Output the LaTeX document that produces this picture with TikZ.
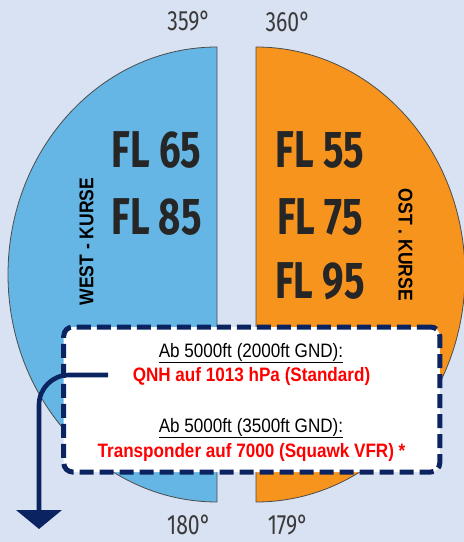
\documentclass[tikz,border=0pt]{standalone}
\usepackage{fontspec}
\usetikzlibrary{arrows.meta,positioning}
\setmainfont{Liberation Sans}
\newfontfamily\boxfont[FakeStretch=0.88]{Liberation Sans}
\newfontfamily\flfont[FakeStretch=0.74]{Fira Sans}
\newfontfamily\degfont[FakeStretch=0.76]{Fira Sans}
\definecolor{bgcol}{HTML}{D9E2F2}
\definecolor{westcol}{HTML}{65B6E5}
\definecolor{ostcol}{HTML}{F7941E}
\definecolor{navycol}{HTML}{0B2361}
\definecolor{degcol}{HTML}{3A3A3A}

\begin{document}
\begin{tikzpicture}[x=1bp, y=-1bp,
    half/.style={draw=black!70, line width=0.8bp},
    fl/.style={inner sep=0pt, font=\flfont\bfseries\fontsize{52}{52}\selectfont, text=black!85},
    deg/.style={inner sep=0pt, font=\degfont\fontsize{28}{28}\selectfont, text=degcol},
    kurs/.style={inner sep=0pt, font=\boxfont\bfseries\fontsize{20}{20}\selectfont},
    infobox/.style={draw=navycol, fill=white, line width=5bp, dash pattern=on 14bp off 6bp, rounded corners=9bp, minimum width=376bp, minimum height=145bp, inner sep=0pt},
    hint/.style={inner sep=0pt, anchor=base, font=\boxfont\fontsize{19.5}{19.5}\selectfont},
    warn/.style={hint, font=\boxfont\bfseries\fontsize{19.5}{19.5}\selectfont, text=red},
    arr/.style={-{Triangle[width=45bp, length=19bp]}, line width=4.6bp, draw=navycol, rounded corners=30bp}
]
\fill[bgcol] (0,0) rectangle (464,542);
\useasboundingbox (0,0) rectangle (464,542);

% two half discs
\draw[half, fill=westcol] (217,47) arc[start angle=270, end angle=90, x radius=209, y radius=227.5] -- cycle;
\draw[half, fill=ostcol] (256,47) arc[start angle=-90, end angle=90, x radius=209, y radius=227.5] -- cycle;

\node[deg] (d359) at (189,21) {359°};
\node[deg] (d360) at (288,22) {360°};
\node[deg] (d180) at (189,525) {180°};
\node[deg] (d179) at (288,525) {179°};

\node[fl] (fl65) at (156.5,150) {FL 65};
\node[fl] (fl85) at (156.5,216.5) {FL 85};
\node[fl] (fl55) at (320,150) {FL 55};
\node[fl] (fl75) at (320,216.5) {FL 75};
\node[fl] (fl95) at (320,281.5) {FL 95};

\node[kurs, rotate=90] (west) at (86.5,241.5) {WEST - KURSE};
\node[kurs, rotate=-90] (ost) at (405.5,245) {OST . KURSE};

% info box
\node[infobox] (infobox) at (251.75,399.5) {};
\node[hint] (qnhtitle) at (251,357) {\underline{Ab 5000ft (2000ft GND):}};
\node[warn] (qnh) at (251.5,381) {QNH auf 1013 hPa (Standard)};
\node[hint] (xpdrtitle) at (251,432) {\underline{Ab 5000ft (3500ft GND):}};
\node[warn] (xpdr) at (251.5,457) {Transponder auf 7000 (Squawk VFR) *};

\coordinate (turnstart) at (108,375);
\coordinate (turnend) at (39,529);
\draw[arr] (turnstart) -| (turnend);
\end{tikzpicture}
\end{document}
